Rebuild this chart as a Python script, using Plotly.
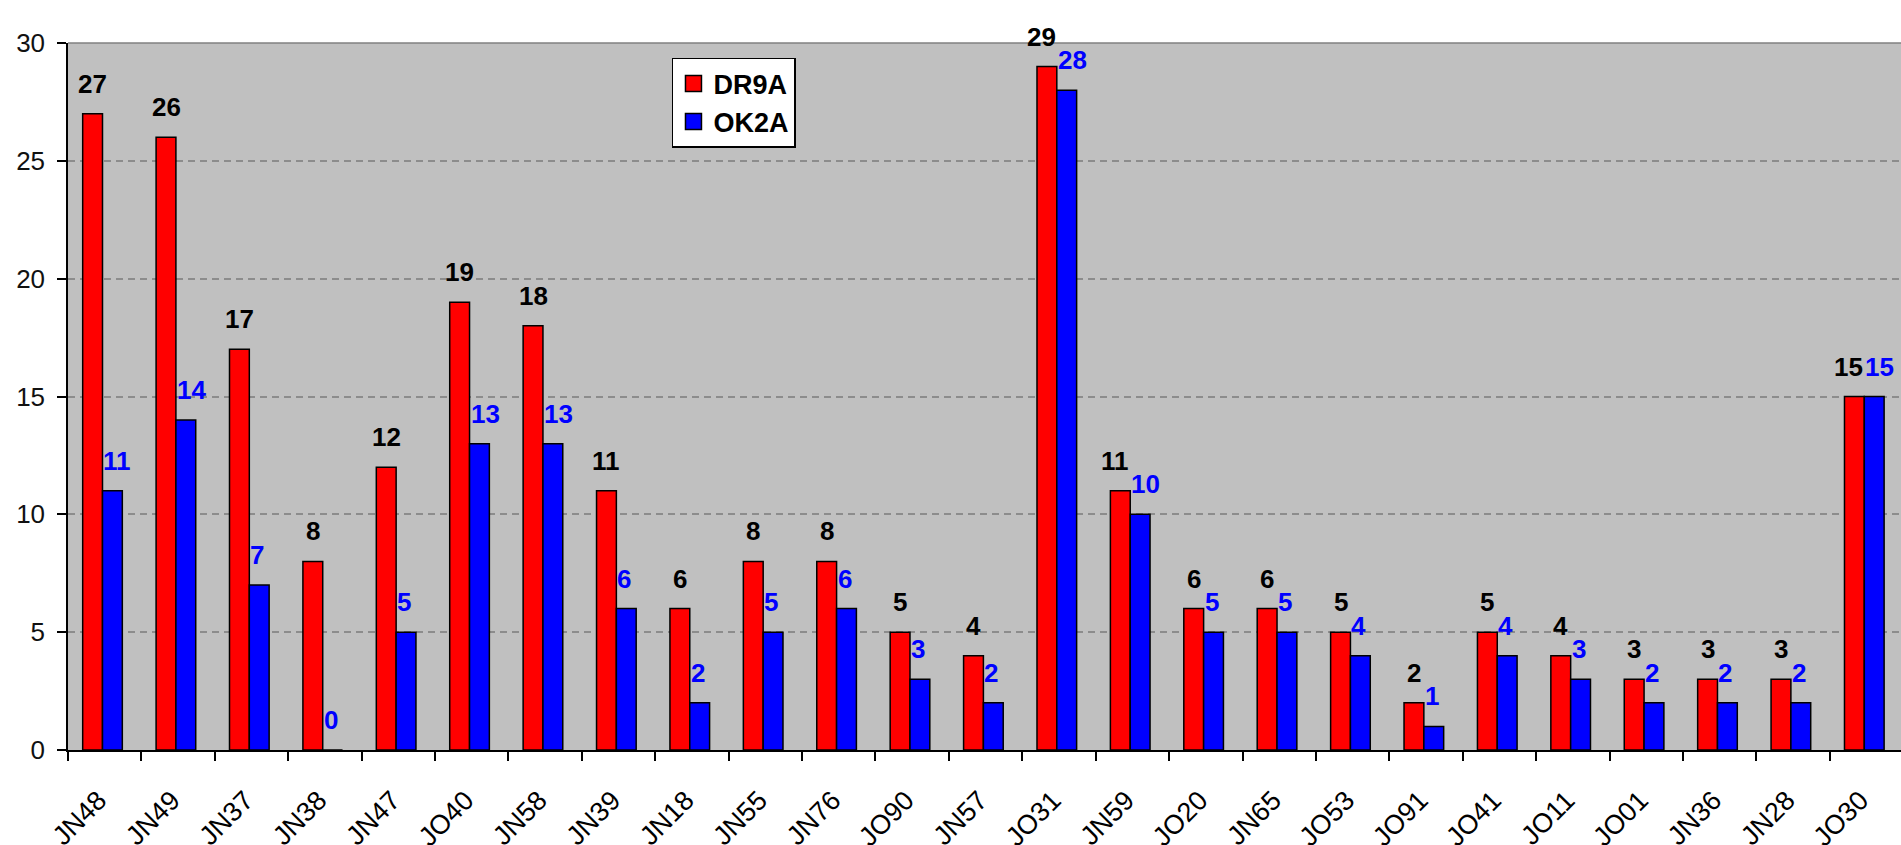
import plotly.graph_objects as go

# Locator squares and QSO counts per station
squares = ["JN48", "JN49", "JN37", "JN38", "JN47", "JO40", "JN58", "JN39", "JN18",
           "JN55", "JN76", "JO90", "JN57", "JO31", "JN59", "JO20", "JN65", "JO53",
           "JO91", "JO41", "JO11", "JO01", "JN36", "JN28", "JO30"]
dr9a = [27, 26, 17, 8, 12, 19, 18, 11, 6, 8, 8, 5, 4, 29, 11, 6, 6, 5, 2, 5, 4, 3, 3, 3, 15]
ok2a = [11, 14, 7, 0, 5, 13, 13, 6, 2, 5, 6, 3, 2, 28, 10, 5, 5, 4, 1, 4, 3, 2, 2, 2, 15]
y_ticks = [0, 5, 10, 15, 20, 25, 30]

FONT = "Arial, Liberation Sans, sans-serif"
RED = "#FF0000"
BLUE = "#0000FF"

# bar placement inside each category slot (fractions of a slot)
BAR_W = 0.27
RED_OFF = -0.30
BLUE_OFF = RED_OFF + BAR_W
SLOT_PX = 73.35

fig = go.Figure()
fig.add_trace(go.Bar(x=squares, y=dr9a, name="DR9A", width=BAR_W, offset=RED_OFF,
                     marker=dict(color=RED, line=dict(color="black", width=1.5)),
                     showlegend=False))
fig.add_trace(go.Bar(x=squares, y=ok2a, name="OK2A", width=BAR_W, offset=BLUE_OFF,
                     marker=dict(color=BLUE, line=dict(color="black", width=1.5)),
                     showlegend=False))

# legend entries with larger square swatches
for name, col in (("DR9A", RED), ("OK2A", BLUE)):
    fig.add_trace(go.Scatter(x=[None], y=[None], mode="markers", name=name,
                             marker=dict(symbol="square", size=17, color=col,
                                         line=dict(color="black", width=1.5))))

# value labels above the bars; a red label is pushed left of its
# neighbour when both labels sit at nearly the same height
annotations = []
red_center_px = (RED_OFF + BAR_W / 2) * SLOT_PX
red_right_px = BLUE_OFF * SLOT_PX
blue_left_px = BLUE_OFF * SLOT_PX
for cat, a, b in zip(squares, dr9a, ok2a):
    crowded = abs(a - b) <= 1 and a >= 10
    annotations.append(dict(x=cat, y=a, text=str(a), showarrow=False,
                            xanchor="right" if crowded else "center", yanchor="bottom",
                            xshift=(red_right_px + 1) if crowded else red_center_px,
                            yshift=13,
                            font=dict(family=FONT, size=26, color="black", weight="bold")))
    annotations.append(dict(x=cat, y=b, text=str(b), showarrow=False,
                            xanchor="left", yanchor="bottom",
                            xshift=blue_left_px - 1, yshift=13,
                            font=dict(family=FONT, size=26, color=BLUE, weight="bold")))

fig.update_layout(
    width=1901, height=845, autosize=False,
    margin=dict(l=68, r=0, t=43, b=95, pad=0),
    paper_bgcolor="white", plot_bgcolor="#C0C0C0",
    barmode="overlay",
    font=dict(family=FONT, color="black"),
    showlegend=True,
    legend=dict(x=0.3295, y=0.979, xanchor="left", yanchor="top",
                bgcolor="white", bordercolor="black", borderwidth=1.5,
                font=dict(family=FONT, size=27, color="black", weight="bold"),
                itemsizing="trace", tracegroupgap=0),
    annotations=annotations,
    shapes=[dict(type="line", xref="paper", yref="paper", x0=0, x1=1, y0=1, y1=1,
                 line=dict(color="#808080", width=1.5), layer="above")],
)

fig.update_xaxes(
    type="category", categoryorder="array", categoryarray=squares,
    range=[-0.5, 24.47], tickangle=-45, tickson="boundaries",
    ticks="outside", ticklen=9, tickwidth=1.5, tickcolor="black",
    showline=True, linecolor="black", linewidth=1.5, automargin=False,
    ticklabelstandoff=22, ticklabelshift=-6,
    showgrid=False, tickfont=dict(family=FONT, size=27, color="black"),
)
fig.update_yaxes(
    range=[0, 30], tickvals=y_ticks, ticktext=[str(v) for v in y_ticks],
    ticks="outside", ticklen=9, tickwidth=1.5, tickcolor="black",
    showline=True, linecolor="black", linewidth=1.5, zeroline=False, automargin=False,
    showgrid=True, gridcolor="#8C8C8C", gridwidth=1.5, griddash="7px,5px",
    ticklabelstandoff=7, tickfont=dict(family=FONT, size=26, color="#111111"),
)

fig.write_html("out.html")
